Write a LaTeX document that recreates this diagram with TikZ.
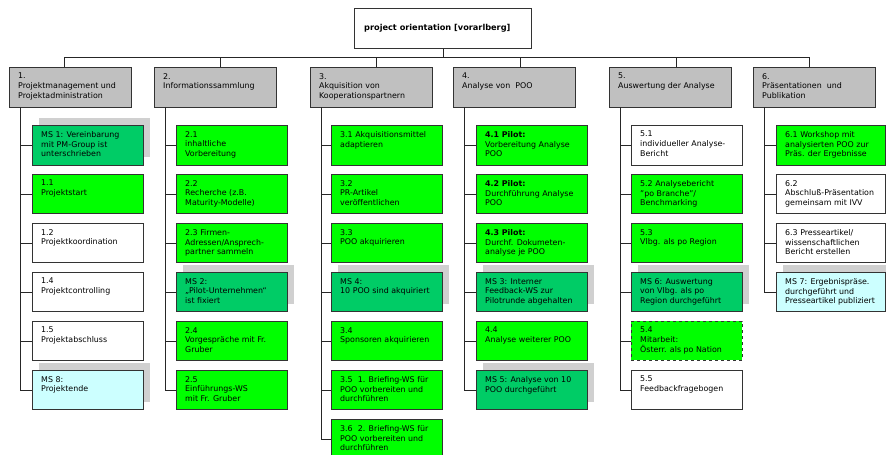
\documentclass[tikz,border=0pt]{standalone}
\usepackage{fontspec}
\setmainfont{DejaVu Sans}
\usetikzlibrary{calc}

\definecolor{wbsgreen}{HTML}{00FF00}
\definecolor{msgreen}{HTML}{00CC66}
\definecolor{mscyan}{HTML}{CCFFFF}
\definecolor{hdrgray}{HTML}{C0C0C0}
\definecolor{shadowgray}{HTML}{D0D0D0}

\tikzset{
  box/.style={draw=black!80, line width=0.9pt, rectangle, anchor=north west,
    inner sep=0pt, minimum width=111pt, minimum height=39pt},
  hdr/.style={box, fill=hdrgray, minimum width=122pt, minimum height=40pt},
  grn/.style={box, fill=wbsgreen},
  ms/.style={box, fill=msgreen},
  cy/.style={box, fill=mscyan},
  wht/.style={box, fill=white},
  txt/.style={anchor=north west, inner sep=0pt, align=left,
    font=\fontsize{7.9}{9.8}\selectfont},
  wire/.style={draw=black!85, line width=0.8pt},
}

% box with its text set in the upper left corner
\newcommand\wbsbox[5]{%
  \node[#4] (#1) at (#2,#3) {};
  \node[txt] (#1-t) at ($(#1.north west)+(9,6)$) {#5};
}
% gray drop shadow behind a milestone box
\newcommand\wbsshadow[2]{\fill[shadowgray] (#1+7,#2-7) rectangle ++(111,39);}

\begin{document}
\begin{tikzpicture}[x=1pt, y=-1pt]
\useasboundingbox (0,0) rectangle (886,455);
\fill[white] (0,0) rectangle (886,455);

% root
\node[box, fill=white, minimum width=177pt, minimum height=40pt] (top) at (354,8) {};
\node[txt, anchor=west, font=\fontsize{8.2}{9}\selectfont\bfseries] (top-t)
  at ($(top.west)+(10,0)$) {project orientation [vorarlberg]};

% bus
\coordinate (bus1) at (64,57);
\coordinate (bus2) at (220,57);
\coordinate (bus3) at (376,57);
\coordinate (bus4) at (520,57);
\coordinate (bus5) at (676,57);
\coordinate (bus6) at (809,57);

% headers
\wbsbox{h1}{9}{67}{hdr}{1.\\Projektmanagement und\\Projektadministration}
\wbsbox{h2}{154}{67}{hdr}{2.\\Informationssammlung}
\wbsbox{h3}{310}{67}{hdr}{3.\\Akquisition von\\Kooperationspartnern}
\wbsbox{h4}{453}{67}{hdr}{4.\\Analyse von\ \ POO}
\wbsbox{h5}{609}{67}{hdr}{5.\\Auswertung der Analyse}
\wbsbox{h6}{753}{67}{hdr}{6.\\Präsentationen\ \ und\\Publikation}

\draw[wire] (bus1) -- (bus6);
\draw[wire] (top.south) -- (top.south |- bus1);
\foreach \i in {1,...,6} {\draw[wire] (bus\i) -- (bus\i |- h\i.north);}

% spines
\coordinate (s1) at (20,107);
\coordinate (s2) at (165,107);
\coordinate (s3) at (321,107);
\coordinate (s4) at (464,107);
\coordinate (s5) at (620,107);
\coordinate (s6) at (764,107);

% shadows of the milestones
\wbsshadow{32}{125}
\wbsshadow{32}{370}
\wbsshadow{176}{272}
\wbsshadow{331}{272}
\wbsshadow{476}{272}
\wbsshadow{476}{370}
\wbsshadow{631}{272}
\wbsshadow{776}{272}

% column 1
\wbsbox{ms1}{32}{125}{ms, minimum height=40pt}{MS 1: Vereinbarung\\mit PM-Group ist\\unterschrieben}
\wbsbox{p11}{32}{174}{grn}{1.1\\Projektstart}
\wbsbox{p12}{32}{223}{wht}{1.2\\Projektkoordination}
\wbsbox{p14}{32}{272}{wht}{1.4\\Projektcontrolling}
\wbsbox{p15}{32}{321}{wht}{1.5\\Projektabschluss}
\wbsbox{ms8}{32}{370}{cy}{MS 8:\\Projektende}
\foreach \n in {ms1,p11,p12,p14,p15,ms8} {\draw[wire] (s1) |- (\n.west);}

% column 2
\wbsbox{p21}{176}{125}{grn, minimum height=40pt}{2.1\\inhaltliche\\Vorbereitung}
\wbsbox{p22}{176}{174}{grn}{2.2\\Recherche (z.B.\\Maturity-Modelle)}
\wbsbox{p23}{176}{223}{grn}{2.3 Firmen-\\Adressen/Ansprech-\\partner sammeln}
\wbsbox{ms2}{176}{272}{ms}{MS 2:\\„Pilot-Unternehmen“\\ist fixiert}
\wbsbox{p24}{176}{321}{grn}{2.4\\Vorgespräche mit Fr.\\Gruber}
\wbsbox{p25}{176}{370}{grn}{2.5\\Einführungs-WS\\mit Fr. Gruber}
\foreach \n in {p21,p22,p23,ms2,p24,p25} {\draw[wire] (s2) |- (\n.west);}

% column 3
\wbsbox{p31}{331}{125}{grn, minimum height=40pt}{3.1 Akquisitionsmittel\\adaptieren}
\wbsbox{p32}{331}{174}{grn}{3.2\\PR-Artikel\\veröffentlichen}
\wbsbox{p33}{331}{223}{grn}{3.3\\POO akquirieren}
\wbsbox{ms4}{331}{272}{ms}{MS 4:\\10 POO sind akquiriert}
\wbsbox{p34}{331}{321}{grn}{3.4\\Sponsoren akquirieren}
\wbsbox{p35}{331}{370}{grn}{3.5\ \ 1. Briefing-WS für\\POO vorbereiten und\\durchführen}
\wbsbox{p36}{331}{419}{grn}{3.6\ \ 2. Briefing-WS für\\POO vorbereiten und\\durchführen}
\foreach \n in {p31,p32,p33,ms4,p34,p35,p36} {\draw[wire] (s3) |- (\n.west);}

% column 4
\wbsbox{p41}{476}{125}{grn, minimum height=40pt}{\textbf{4.1 Pilot:}\\Vorbereitung Analyse\\POO}
\wbsbox{p42}{476}{174}{grn}{\textbf{4.2 Pilot:}\\Durchführung Analyse\\POO}
\wbsbox{p43}{476}{223}{grn}{\textbf{4.3 Pilot:}\\Durchf. Dokumeten-\\analyse je POO}
\wbsbox{ms3}{476}{272}{ms}{MS 3: Interner\\Feedback-WS zur\\Pilotrunde abgehalten}
\wbsbox{p44}{476}{321}{grn}{4.4\\Analyse weiterer POO}
\wbsbox{ms5}{476}{370}{ms}{MS 5: Analyse von 10\\POO durchgeführt}
\foreach \n in {p41,p42,p43,ms3,p44,ms5} {\draw[wire] (s4) |- (\n.west);}

% column 5
\wbsbox{p51}{631}{125}{wht, minimum height=40pt}{5.1\\individueller Analyse-\\Bericht}
\wbsbox{p52}{631}{174}{grn}{5.2 Analysebericht\\"po Branche"/\\Benchmarking}
\wbsbox{p53}{631}{223}{grn}{5.3\\Vlbg. als po Region}
\wbsbox{ms6}{631}{272}{ms}{MS 6: Auswertung\\von Vlbg. als po\\Region durchgeführt}
\wbsbox{p54}{631}{321}{grn, dashed}{5.4\\Mitarbeit:\\Österr. als po Nation}
\wbsbox{p55}{631}{370}{wht}{5.5\\Feedbackfragebogen}
\foreach \n in {p51,p52,p53,ms6,p54,p55} {\draw[wire] (s5) |- (\n.west);}

% column 6
\wbsbox{p61}{776}{125}{grn, minimum width=109pt, minimum height=40pt}{6.1 Workshop mit\\analysierten POO zur\\Präs. der Ergebnisse}
\wbsbox{p62}{776}{174}{wht, minimum width=109pt}{6.2\\Abschluß-Präsentation\\gemeinsam mit IVV}
\wbsbox{p63}{776}{223}{wht, minimum width=109pt}{6.3 Presseartikel/\\wissenschaftlichen\\Bericht erstellen}
\wbsbox{ms7}{776}{272}{cy, minimum width=109pt}{MS 7: Ergebnispräse.\\durchgeführt und\\Presseartikel publiziert}
\foreach \n in {p61,p62,p63,ms7} {\draw[wire] (s6) |- (\n.west);}
\end{tikzpicture}
\end{document}
